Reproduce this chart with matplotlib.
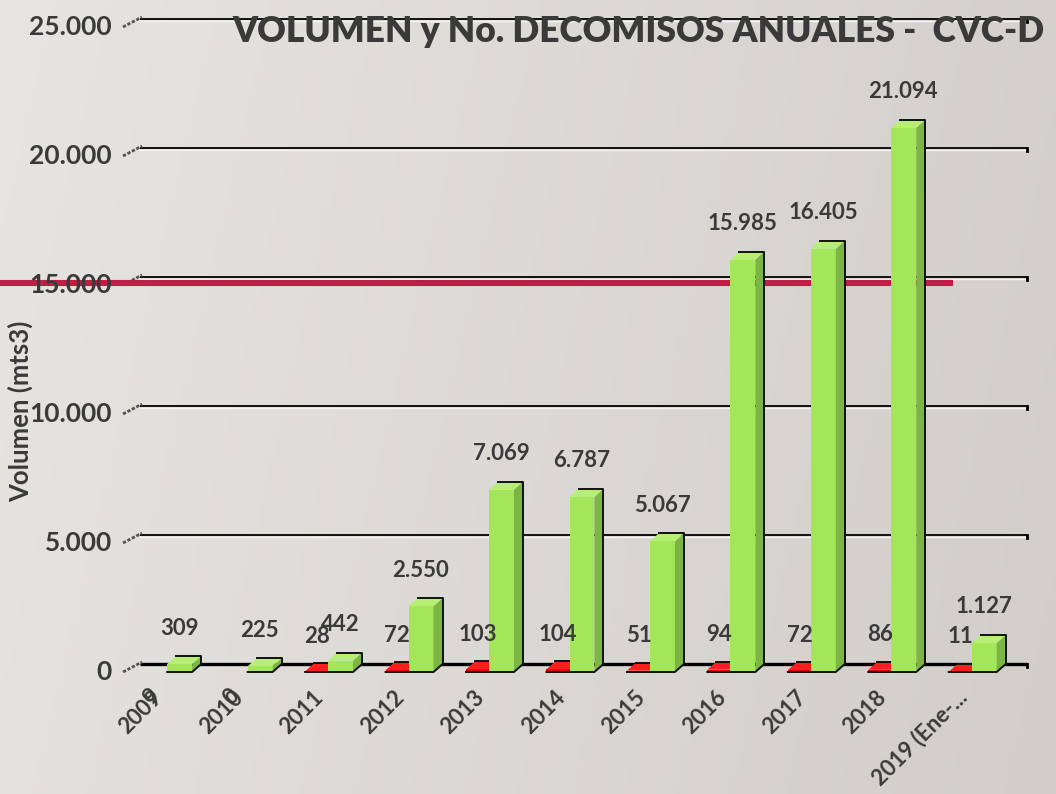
import numpy as np
import matplotlib
matplotlib.use("Agg")
import matplotlib.pyplot as plt
from matplotlib.patches import Polygon, Rectangle

plt.rcParams['font.family'] = ['Lato', 'DejaVu Sans']

# ---------------- data ----------------
categories = ["2009", "2010", "2011", "2012", "2013", "2014", "2015",
              "2016", "2017", "2018", "2019 (Ene-..."]
volumen = [309, 225, 442, 2550, 7069, 6787, 5067, 15985, 16405, 21094, 1127]
volumen_labels = ["309", "225", "442", "2.550", "7.069", "6.787", "5.067",
                  "15.985", "16.405", "21.094", "1.127"]
decomisos = [None, None, 28, 72, 103, 104, 51, 94, 72, 86, 11]
decomisos_labels = ["", "", "28", "72", "103", "104", "51", "94", "72", "86", "11"]
stray_labels = ["9", "0"]          # overlapping glyphs seen on 2009/2010 ticks
yticks = [0, 5000, 10000, 15000, 20000, 25000]
ytick_labels = ["0", "5.000", "10.000", "15.000", "20.000", "25.000"]
title = "VOLUMEN y No. DECOMISOS ANUALES -  CVC-D"
ylabel = "Volumen (mts3)"
ref_line_value = 15078

W, H = 1056, 794
fig = plt.figure(figsize=(W / 100, H / 100), dpi=100)

# background gradient
bg = fig.add_axes([0, 0, 1, 1], zorder=-10)
xx = np.linspace(0, 1, 200)
yy = np.linspace(0, 1, 200)
X, Y = np.meshgrid(xx, yy)
c_left = np.array([0.906, 0.898, 0.882])
c_right = np.array([0.820, 0.808, 0.792])
t = (0.85 * X + 0.15 * Y)
img = c_left[None, None, :] * (1 - t[..., None]) + c_right[None, None, :] * t[..., None]
bg.imshow(img, extent=[0, 1, 0, 1], aspect='auto', origin='upper')
bg.axis('off')

# main axes (front plane)
left_px, right_px, bottom_px, top_px = 127, 1012, 672, 27
ax = fig.add_axes([left_px / W, (H - bottom_px) / H, (right_px - left_px) / W,
                   (bottom_px - top_px) / H])
ax.set_xlim(-0.5, len(categories) - 0.5)
ax.set_ylim(0, 25000)
ax.patch.set_alpha(0)
for s in ax.spines.values():
    s.set_visible(False)
ax.set_xticks([])
ax.set_yticks([])

px_x = (len(categories)) / (right_px - left_px)   # data units per pixel (x)
px_y = 25000 / (bottom_px - top_px)               # data units per pixel (y)
dx, dy = 9 * px_x, 8 * px_y

txt = '#3a3a3a'
x_start = -0.5 + 13 * px_x
x_end = len(categories) - 0.5 + 15 * px_x

# back-wall gridlines
for v in yticks:
    lw = 2.4 if v == 0 else 1.3
    ax.plot([x_start, x_end], [v + dy, v + dy], color='black', lw=lw,
            zorder=1, clip_on=False, solid_capstyle='butt')
    if v > 0:
        ax.plot([x_start, x_end], [v + dy - 2 * px_y] * 2, color='#f4f4f2',
                lw=1.0, zorder=0.9, clip_on=False)
    ax.plot([x_end, x_end], [v + dy, v + dy - 3 * px_y], color='black', lw=2,
            zorder=1, clip_on=False)
    # slanted tick to the wall
    ax.plot([-0.5 - 4 * px_x, -0.5 + 15 * px_x], [v, v + 10 * px_y],
            color='#555555', lw=2.0, zorder=1, clip_on=False,
            linestyle=(0, (1.2, 0.6)))

# decorative red reference line (behind bars)
ax.axhline(ref_line_value, xmin=-left_px / (right_px - left_px),
           xmax=(950 - left_px) / (right_px - left_px),
           color='#bf1f45', lw=4.4, zorder=1.5, clip_on=False)


def box(x0, x1, h, front, side, top, z):
    ax.add_patch(Rectangle((x0, 0), x1 - x0, h, facecolor=front,
                           edgecolor='none', zorder=z))
    ax.add_patch(Polygon([(x1, 0), (x1 + dx, dy), (x1 + dx, h + dy), (x1, h)],
                         closed=True, facecolor=side, edgecolor='none', zorder=z))
    ax.add_patch(Polygon([(x0, h), (x0 + dx, h + dy), (x1 + dx, h + dy), (x1, h)],
                         closed=True, facecolor=top, edgecolor='none', zorder=z))
    # dark outline on back/right edges and bottom
    ax.plot([x0 + dx, x1 + dx, x1 + dx], [h + dy, h + dy, dy],
            color='#111111', lw=1.4, zorder=z + 0.01, clip_on=False)
    ax.plot([x0, x1, x1 + dx], [0, 0, dy], color='#111111', lw=1.4,
            zorder=z + 0.01, clip_on=False)


red_w, green_w = 0.286, 0.31
for i, (v, d) in enumerate(zip(volumen, decomisos)):
    if d is not None:
        box(i - red_w, i, d, '#e80000', '#a00000', '#ff1e1e', 3 + i * 0.1)
    box(i, i + green_w, v, '#a4e65a', '#7cb544', '#b6ef74', 3.05 + i * 0.1)

# value labels
for i, (v, lab) in enumerate(zip(volumen, volumen_labels)):
    ax.annotate(lab, (i + 0.15, v), xytext=(0, 36), textcoords='offset pixels',
                ha='center', va='center', fontsize=16, color=txt,
                fontweight='bold', zorder=10, annotation_clip=False)
for i, (d, lab) in enumerate(zip(decomisos, decomisos_labels)):
    if d is not None:
        ax.annotate(lab, (i - 0.14, d), xytext=(0, 35), textcoords='offset pixels',
                    ha='center', va='center', fontsize=16, color=txt,
                    fontweight='bold', zorder=10, annotation_clip=False)

# y tick labels
for v, lab in zip(yticks, ytick_labels):
    ax.annotate(lab, (-0.5, v), xytext=(-15, 0), textcoords='offset pixels',
                ha='right', va='center', fontsize=19, color=txt,
                fontweight='bold', annotation_clip=False)

# x tick labels
for i, lab in enumerate(categories):
    ax.annotate(lab, (i, 0), xytext=(-8, -22), textcoords='offset pixels',
                ha='right', va='center', rotation=45, rotation_mode='anchor',
                fontsize=16, color=txt, fontweight='bold', annotation_clip=False)
for i, lab in enumerate(stray_labels):
    ax.annotate(lab, (i, 0), xytext=(-12, -20), textcoords='offset pixels',
                ha='right', va='center', rotation=45, rotation_mode='anchor',
                fontsize=16, color=txt, fontweight='bold', annotation_clip=False)

# axis title and chart title
fig.text(20 / W, (H - 411) / H, ylabel, rotation=90, ha='center', va='center',
         fontsize=18.5, color=txt, fontweight='bold')
fig.text(232 / W, (H - 31) / H, title, ha='left', va='center', fontsize=25.5,
         color=txt, fontweight='heavy')

fig.savefig('out.png', dpi=100)
